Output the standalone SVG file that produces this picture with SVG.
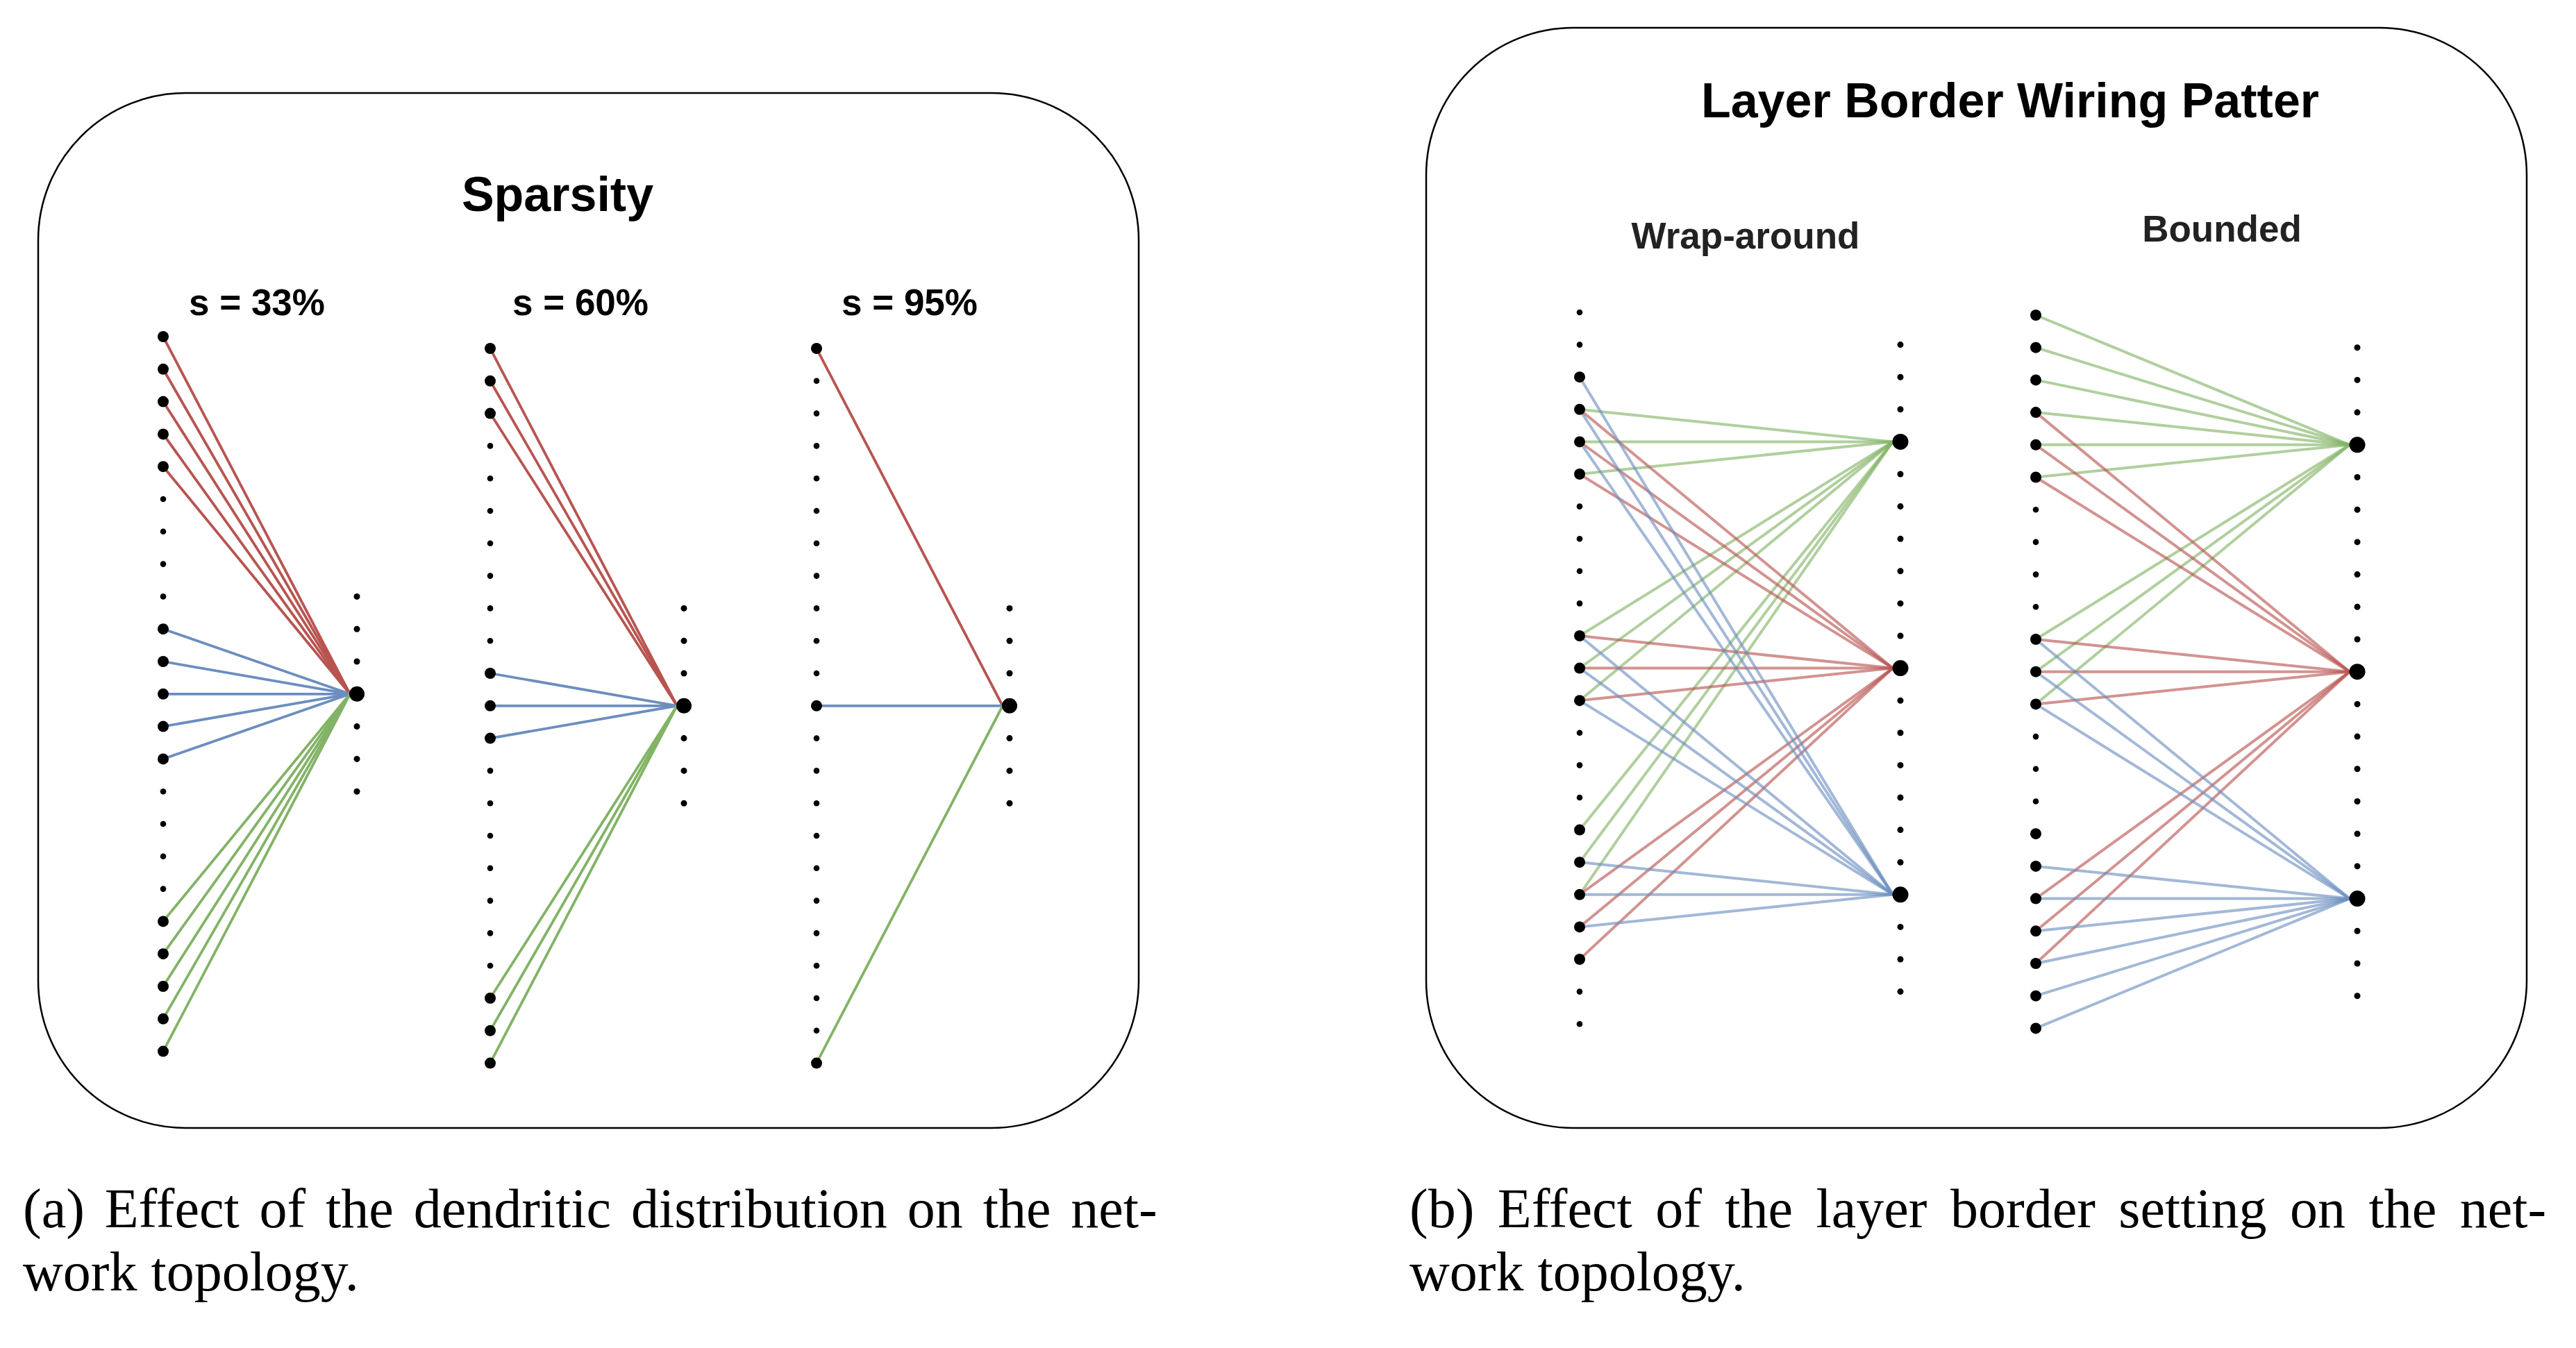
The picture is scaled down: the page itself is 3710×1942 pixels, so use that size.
<svg xmlns="http://www.w3.org/2000/svg" width="3710" height="1942" viewBox="0 0 3710 1942">
<style>
.panel{fill:#fff;stroke:#000;stroke-width:2.5}
.ttl{font-family:"Liberation Sans",Arial,sans-serif;font-weight:bold;fill:#000;text-anchor:middle}
.sub{font-family:"Liberation Sans",Arial,sans-serif;font-weight:bold;fill:#222;text-anchor:middle;font-size:53px}
.cap{font-family:"Liberation Serif","Times New Roman",serif;font-size:80px;fill:#000}
.ln{fill:none;stroke-width:3.8}
.tr .ln{stroke-width:4;stroke-opacity:0.63}
.r{stroke:#b85450}.b{stroke:#6c8ebf}.g{stroke:#82b366}
circle{fill:#000}
</style>
<rect id="panel-a" class="panel" x="55" y="134" width="1585" height="1491" rx="212" ry="212"/>
<rect id="panel-b" class="panel" x="2054" y="40" width="1585" height="1585" rx="212" ry="212"/>
<text id="title-a" class="ttl" x="803" y="304" font-size="70">Sparsity</text>
<text id="lbl-33" class="ttl" x="370" y="454" font-size="53">s = 33%</text>
<text id="lbl-60" class="ttl" x="836" y="454" font-size="53">s = 60%</text>
<text id="lbl-95" class="ttl" x="1310" y="454" font-size="53">s = 95%</text>
<text id="title-b" class="ttl" x="2895" y="169" font-size="70">Layer Border Wiring Patter</text>
<text id="lbl-wrap" class="sub" x="2514" y="358">Wrap-around</text>
<text id="lbl-bounded" class="sub" x="3200" y="348">Bounded</text>
<g id="connectors">
<g id="conn-a1">
<line class="ln r" x1="235" y1="485" x2="504" y2="999.8"/>
<line class="ln r" x1="235" y1="531.8" x2="504" y2="999.8"/>
<line class="ln r" x1="235" y1="578.6" x2="504" y2="999.8"/>
<line class="ln r" x1="235" y1="625.4" x2="504" y2="999.8"/>
<line class="ln r" x1="235" y1="672.2" x2="504" y2="999.8"/>
<line class="ln b" x1="235" y1="906.2" x2="504" y2="999.8"/>
<line class="ln b" x1="235" y1="953" x2="504" y2="999.8"/>
<line class="ln b" x1="235" y1="999.8" x2="504" y2="999.8"/>
<line class="ln b" x1="235" y1="1046.6" x2="504" y2="999.8"/>
<line class="ln b" x1="235" y1="1093.4" x2="504" y2="999.8"/>
<line class="ln g" x1="235" y1="1327.4" x2="504" y2="999.8"/>
<line class="ln g" x1="235" y1="1374.2" x2="504" y2="999.8"/>
<line class="ln g" x1="235" y1="1421" x2="504" y2="999.8"/>
<line class="ln g" x1="235" y1="1467.8" x2="504" y2="999.8"/>
<line class="ln g" x1="235" y1="1514.6" x2="504" y2="999.8"/>
</g>
<g id="conn-a2">
<line class="ln r" x1="706" y1="502" x2="975" y2="1016.8"/>
<line class="ln r" x1="706" y1="548.8" x2="975" y2="1016.8"/>
<line class="ln r" x1="706" y1="595.6" x2="975" y2="1016.8"/>
<line class="ln b" x1="706" y1="970" x2="975" y2="1016.8"/>
<line class="ln b" x1="706" y1="1016.8" x2="975" y2="1016.8"/>
<line class="ln b" x1="706" y1="1063.6" x2="975" y2="1016.8"/>
<line class="ln g" x1="706" y1="1438" x2="975" y2="1016.8"/>
<line class="ln g" x1="706" y1="1484.8" x2="975" y2="1016.8"/>
<line class="ln g" x1="706" y1="1531.6" x2="975" y2="1016.8"/>
</g>
<g id="conn-a3">
<line class="ln r" x1="1176" y1="502" x2="1444" y2="1016.8"/>
<line class="ln b" x1="1176" y1="1016.8" x2="1444" y2="1016.8"/>
<line class="ln g" x1="1176" y1="1531.6" x2="1444" y2="1016.8"/>
</g>
<g id="conn-b1" class="tr">
<line class="ln g" x1="2275" y1="589.8" x2="2726" y2="636.4"/>
<line class="ln g" x1="2275" y1="636.4" x2="2726" y2="636.4"/>
<line class="ln g" x1="2275" y1="683" x2="2726" y2="636.4"/>
<line class="ln g" x1="2275" y1="916" x2="2726" y2="636.4"/>
<line class="ln g" x1="2275" y1="962.6" x2="2726" y2="636.4"/>
<line class="ln g" x1="2275" y1="1009.2" x2="2726" y2="636.4"/>
<line class="ln g" x1="2275" y1="1195.6" x2="2726" y2="636.4"/>
<line class="ln g" x1="2275" y1="1242.2" x2="2726" y2="636.4"/>
<line class="ln g" x1="2275" y1="1288.8" x2="2726" y2="636.4"/>
<line class="ln r" x1="2275" y1="589.8" x2="2726" y2="962.6"/>
<line class="ln r" x1="2275" y1="636.4" x2="2726" y2="962.6"/>
<line class="ln r" x1="2275" y1="683" x2="2726" y2="962.6"/>
<line class="ln r" x1="2275" y1="916" x2="2726" y2="962.6"/>
<line class="ln r" x1="2275" y1="962.6" x2="2726" y2="962.6"/>
<line class="ln r" x1="2275" y1="1009.2" x2="2726" y2="962.6"/>
<line class="ln r" x1="2275" y1="1288.8" x2="2726" y2="962.6"/>
<line class="ln r" x1="2275" y1="1335.4" x2="2726" y2="962.6"/>
<line class="ln r" x1="2275" y1="1382" x2="2726" y2="962.6"/>
<line class="ln b" x1="2275" y1="543.2" x2="2726" y2="1288.8"/>
<line class="ln b" x1="2275" y1="589.8" x2="2726" y2="1288.8"/>
<line class="ln b" x1="2275" y1="636.4" x2="2726" y2="1288.8"/>
<line class="ln b" x1="2275" y1="916" x2="2726" y2="1288.8"/>
<line class="ln b" x1="2275" y1="962.6" x2="2726" y2="1288.8"/>
<line class="ln b" x1="2275" y1="1009.2" x2="2726" y2="1288.8"/>
<line class="ln b" x1="2275" y1="1242.2" x2="2726" y2="1288.8"/>
<line class="ln b" x1="2275" y1="1288.8" x2="2726" y2="1288.8"/>
<line class="ln b" x1="2275" y1="1335.4" x2="2726" y2="1288.8"/>
</g>
<g id="conn-b2" class="tr">
<line class="ln g" x1="2932" y1="454" x2="3384" y2="640.8"/>
<line class="ln g" x1="2932" y1="500.7" x2="3384" y2="640.8"/>
<line class="ln g" x1="2932" y1="547.4" x2="3384" y2="640.8"/>
<line class="ln g" x1="2932" y1="594.1" x2="3384" y2="640.8"/>
<line class="ln g" x1="2932" y1="640.8" x2="3384" y2="640.8"/>
<line class="ln g" x1="2932" y1="687.5" x2="3384" y2="640.8"/>
<line class="ln g" x1="2932" y1="921" x2="3384" y2="640.8"/>
<line class="ln g" x1="2932" y1="967.7" x2="3384" y2="640.8"/>
<line class="ln g" x1="2932" y1="1014.4" x2="3384" y2="640.8"/>
<line class="ln r" x1="2932" y1="594.1" x2="3384" y2="967.7"/>
<line class="ln r" x1="2932" y1="640.8" x2="3384" y2="967.7"/>
<line class="ln r" x1="2932" y1="687.5" x2="3384" y2="967.7"/>
<line class="ln r" x1="2932" y1="921" x2="3384" y2="967.7"/>
<line class="ln r" x1="2932" y1="967.7" x2="3384" y2="967.7"/>
<line class="ln r" x1="2932" y1="1014.4" x2="3384" y2="967.7"/>
<line class="ln r" x1="2932" y1="1294.6" x2="3384" y2="967.7"/>
<line class="ln r" x1="2932" y1="1341.3" x2="3384" y2="967.7"/>
<line class="ln r" x1="2932" y1="1388" x2="3384" y2="967.7"/>
<line class="ln b" x1="2932" y1="921" x2="3384" y2="1294.6"/>
<line class="ln b" x1="2932" y1="967.7" x2="3384" y2="1294.6"/>
<line class="ln b" x1="2932" y1="1014.4" x2="3384" y2="1294.6"/>
<line class="ln b" x1="2932" y1="1247.9" x2="3384" y2="1294.6"/>
<line class="ln b" x1="2932" y1="1294.6" x2="3384" y2="1294.6"/>
<line class="ln b" x1="2932" y1="1341.3" x2="3384" y2="1294.6"/>
<line class="ln b" x1="2932" y1="1388" x2="3384" y2="1294.6"/>
<line class="ln b" x1="2932" y1="1434.7" x2="3384" y2="1294.6"/>
<line class="ln b" x1="2932" y1="1481.4" x2="3384" y2="1294.6"/>
</g>
</g>
<g id="nodes-a1">
<g id="a1-in0"><circle cx="235" cy="485" r="8"/></g>
<g id="a1-in1"><circle cx="235" cy="531.8" r="8"/></g>
<g id="a1-in2"><circle cx="235" cy="578.6" r="8"/></g>
<g id="a1-in3"><circle cx="235" cy="625.4" r="8"/></g>
<g id="a1-in4"><circle cx="235" cy="672.2" r="8"/></g>
<g id="a1-in5"><circle cx="235" cy="719" r="4.3"/></g>
<g id="a1-in6"><circle cx="235" cy="765.8" r="4.3"/></g>
<g id="a1-in7"><circle cx="235" cy="812.6" r="4.3"/></g>
<g id="a1-in8"><circle cx="235" cy="859.4" r="4.3"/></g>
<g id="a1-in9"><circle cx="235" cy="906.2" r="8"/></g>
<g id="a1-in10"><circle cx="235" cy="953" r="8"/></g>
<g id="a1-in11"><circle cx="235" cy="999.8" r="8"/></g>
<g id="a1-in12"><circle cx="235" cy="1046.6" r="8"/></g>
<g id="a1-in13"><circle cx="235" cy="1093.4" r="8"/></g>
<g id="a1-in14"><circle cx="235" cy="1140.2" r="4.3"/></g>
<g id="a1-in15"><circle cx="235" cy="1187" r="4.3"/></g>
<g id="a1-in16"><circle cx="235" cy="1233.8" r="4.3"/></g>
<g id="a1-in17"><circle cx="235" cy="1280.6" r="4.3"/></g>
<g id="a1-in18"><circle cx="235" cy="1327.4" r="8"/></g>
<g id="a1-in19"><circle cx="235" cy="1374.2" r="8"/></g>
<g id="a1-in20"><circle cx="235" cy="1421" r="8"/></g>
<g id="a1-in21"><circle cx="235" cy="1467.8" r="8"/></g>
<g id="a1-in22"><circle cx="235" cy="1514.6" r="8"/></g>
<g id="a1-out0"><circle cx="514" cy="859.4" r="4.5"/></g>
<g id="a1-out1"><circle cx="514" cy="906.2" r="4.5"/></g>
<g id="a1-out2"><circle cx="514" cy="953" r="4.5"/></g>
<g id="a1-out3"><circle cx="514" cy="999.8" r="11"/></g>
<g id="a1-out4"><circle cx="514" cy="1046.6" r="4.5"/></g>
<g id="a1-out5"><circle cx="514" cy="1093.4" r="4.5"/></g>
<g id="a1-out6"><circle cx="514" cy="1140.2" r="4.5"/></g>
</g>
<g id="nodes-a2">
<g id="a2-in0"><circle cx="706" cy="502" r="8"/></g>
<g id="a2-in1"><circle cx="706" cy="548.8" r="8"/></g>
<g id="a2-in2"><circle cx="706" cy="595.6" r="8"/></g>
<g id="a2-in3"><circle cx="706" cy="642.4" r="4.3"/></g>
<g id="a2-in4"><circle cx="706" cy="689.2" r="4.3"/></g>
<g id="a2-in5"><circle cx="706" cy="736" r="4.3"/></g>
<g id="a2-in6"><circle cx="706" cy="782.8" r="4.3"/></g>
<g id="a2-in7"><circle cx="706" cy="829.6" r="4.3"/></g>
<g id="a2-in8"><circle cx="706" cy="876.4" r="4.3"/></g>
<g id="a2-in9"><circle cx="706" cy="923.2" r="4.3"/></g>
<g id="a2-in10"><circle cx="706" cy="970" r="8"/></g>
<g id="a2-in11"><circle cx="706" cy="1016.8" r="8"/></g>
<g id="a2-in12"><circle cx="706" cy="1063.6" r="8"/></g>
<g id="a2-in13"><circle cx="706" cy="1110.4" r="4.3"/></g>
<g id="a2-in14"><circle cx="706" cy="1157.2" r="4.3"/></g>
<g id="a2-in15"><circle cx="706" cy="1204" r="4.3"/></g>
<g id="a2-in16"><circle cx="706" cy="1250.8" r="4.3"/></g>
<g id="a2-in17"><circle cx="706" cy="1297.6" r="4.3"/></g>
<g id="a2-in18"><circle cx="706" cy="1344.4" r="4.3"/></g>
<g id="a2-in19"><circle cx="706" cy="1391.2" r="4.3"/></g>
<g id="a2-in20"><circle cx="706" cy="1438" r="8"/></g>
<g id="a2-in21"><circle cx="706" cy="1484.8" r="8"/></g>
<g id="a2-in22"><circle cx="706" cy="1531.6" r="8"/></g>
<g id="a2-out0"><circle cx="985" cy="876.4" r="4.5"/></g>
<g id="a2-out1"><circle cx="985" cy="923.2" r="4.5"/></g>
<g id="a2-out2"><circle cx="985" cy="970" r="4.5"/></g>
<g id="a2-out3"><circle cx="985" cy="1016.8" r="11"/></g>
<g id="a2-out4"><circle cx="985" cy="1063.6" r="4.5"/></g>
<g id="a2-out5"><circle cx="985" cy="1110.4" r="4.5"/></g>
<g id="a2-out6"><circle cx="985" cy="1157.2" r="4.5"/></g>
</g>
<g id="nodes-a3">
<g id="a3-in0"><circle cx="1176" cy="502" r="8"/></g>
<g id="a3-in1"><circle cx="1176" cy="548.8" r="4.3"/></g>
<g id="a3-in2"><circle cx="1176" cy="595.6" r="4.3"/></g>
<g id="a3-in3"><circle cx="1176" cy="642.4" r="4.3"/></g>
<g id="a3-in4"><circle cx="1176" cy="689.2" r="4.3"/></g>
<g id="a3-in5"><circle cx="1176" cy="736" r="4.3"/></g>
<g id="a3-in6"><circle cx="1176" cy="782.8" r="4.3"/></g>
<g id="a3-in7"><circle cx="1176" cy="829.6" r="4.3"/></g>
<g id="a3-in8"><circle cx="1176" cy="876.4" r="4.3"/></g>
<g id="a3-in9"><circle cx="1176" cy="923.2" r="4.3"/></g>
<g id="a3-in10"><circle cx="1176" cy="970" r="4.3"/></g>
<g id="a3-in11"><circle cx="1176" cy="1016.8" r="8"/></g>
<g id="a3-in12"><circle cx="1176" cy="1063.6" r="4.3"/></g>
<g id="a3-in13"><circle cx="1176" cy="1110.4" r="4.3"/></g>
<g id="a3-in14"><circle cx="1176" cy="1157.2" r="4.3"/></g>
<g id="a3-in15"><circle cx="1176" cy="1204" r="4.3"/></g>
<g id="a3-in16"><circle cx="1176" cy="1250.8" r="4.3"/></g>
<g id="a3-in17"><circle cx="1176" cy="1297.6" r="4.3"/></g>
<g id="a3-in18"><circle cx="1176" cy="1344.4" r="4.3"/></g>
<g id="a3-in19"><circle cx="1176" cy="1391.2" r="4.3"/></g>
<g id="a3-in20"><circle cx="1176" cy="1438" r="4.3"/></g>
<g id="a3-in21"><circle cx="1176" cy="1484.8" r="4.3"/></g>
<g id="a3-in22"><circle cx="1176" cy="1531.6" r="8"/></g>
<g id="a3-out0"><circle cx="1454" cy="876.4" r="4.5"/></g>
<g id="a3-out1"><circle cx="1454" cy="923.2" r="4.5"/></g>
<g id="a3-out2"><circle cx="1454" cy="970" r="4.5"/></g>
<g id="a3-out3"><circle cx="1454" cy="1016.8" r="11"/></g>
<g id="a3-out4"><circle cx="1454" cy="1063.6" r="4.5"/></g>
<g id="a3-out5"><circle cx="1454" cy="1110.4" r="4.5"/></g>
<g id="a3-out6"><circle cx="1454" cy="1157.2" r="4.5"/></g>
</g>
<g id="nodes-b1">
<g id="b1-in0"><circle cx="2275" cy="450" r="4.3"/></g>
<g id="b1-in1"><circle cx="2275" cy="496.6" r="4.3"/></g>
<g id="b1-in2"><circle cx="2275" cy="543.2" r="8"/></g>
<g id="b1-in3"><circle cx="2275" cy="589.8" r="8"/></g>
<g id="b1-in4"><circle cx="2275" cy="636.4" r="8"/></g>
<g id="b1-in5"><circle cx="2275" cy="683" r="8"/></g>
<g id="b1-in6"><circle cx="2275" cy="729.6" r="4.3"/></g>
<g id="b1-in7"><circle cx="2275" cy="776.2" r="4.3"/></g>
<g id="b1-in8"><circle cx="2275" cy="822.8" r="4.3"/></g>
<g id="b1-in9"><circle cx="2275" cy="869.4" r="4.3"/></g>
<g id="b1-in10"><circle cx="2275" cy="916" r="8"/></g>
<g id="b1-in11"><circle cx="2275" cy="962.6" r="8"/></g>
<g id="b1-in12"><circle cx="2275" cy="1009.2" r="8"/></g>
<g id="b1-in13"><circle cx="2275" cy="1055.8" r="4.3"/></g>
<g id="b1-in14"><circle cx="2275" cy="1102.4" r="4.3"/></g>
<g id="b1-in15"><circle cx="2275" cy="1149" r="4.3"/></g>
<g id="b1-in16"><circle cx="2275" cy="1195.6" r="8"/></g>
<g id="b1-in17"><circle cx="2275" cy="1242.2" r="8"/></g>
<g id="b1-in18"><circle cx="2275" cy="1288.8" r="8"/></g>
<g id="b1-in19"><circle cx="2275" cy="1335.4" r="8"/></g>
<g id="b1-in20"><circle cx="2275" cy="1382" r="8"/></g>
<g id="b1-in21"><circle cx="2275" cy="1428.6" r="4.3"/></g>
<g id="b1-in22"><circle cx="2275" cy="1475.2" r="4.3"/></g>
<g id="b1-out1"><circle cx="2737" cy="496.6" r="4.5"/></g>
<g id="b1-out2"><circle cx="2737" cy="543.2" r="4.5"/></g>
<g id="b1-out3"><circle cx="2737" cy="589.8" r="4.5"/></g>
<g id="b1-out4"><circle cx="2737" cy="636.4" r="11.5"/></g>
<g id="b1-out5"><circle cx="2737" cy="683" r="4.5"/></g>
<g id="b1-out6"><circle cx="2737" cy="729.6" r="4.5"/></g>
<g id="b1-out7"><circle cx="2737" cy="776.2" r="4.5"/></g>
<g id="b1-out8"><circle cx="2737" cy="822.8" r="4.5"/></g>
<g id="b1-out9"><circle cx="2737" cy="869.4" r="4.5"/></g>
<g id="b1-out10"><circle cx="2737" cy="916" r="4.5"/></g>
<g id="b1-out11"><circle cx="2737" cy="962.6" r="11.5"/></g>
<g id="b1-out12"><circle cx="2737" cy="1009.2" r="4.5"/></g>
<g id="b1-out13"><circle cx="2737" cy="1055.8" r="4.5"/></g>
<g id="b1-out14"><circle cx="2737" cy="1102.4" r="4.5"/></g>
<g id="b1-out15"><circle cx="2737" cy="1149" r="4.5"/></g>
<g id="b1-out16"><circle cx="2737" cy="1195.6" r="4.5"/></g>
<g id="b1-out17"><circle cx="2737" cy="1242.2" r="4.5"/></g>
<g id="b1-out18"><circle cx="2737" cy="1288.8" r="11.5"/></g>
<g id="b1-out19"><circle cx="2737" cy="1335.4" r="4.5"/></g>
<g id="b1-out20"><circle cx="2737" cy="1382" r="4.5"/></g>
<g id="b1-out21"><circle cx="2737" cy="1428.6" r="4.5"/></g>
</g>
<g id="nodes-b2">
<g id="b2-in0"><circle cx="2932" cy="454" r="8"/></g>
<g id="b2-in1"><circle cx="2932" cy="500.7" r="8"/></g>
<g id="b2-in2"><circle cx="2932" cy="547.4" r="8"/></g>
<g id="b2-in3"><circle cx="2932" cy="594.1" r="8"/></g>
<g id="b2-in4"><circle cx="2932" cy="640.8" r="8"/></g>
<g id="b2-in5"><circle cx="2932" cy="687.5" r="8"/></g>
<g id="b2-in6"><circle cx="2932" cy="734.2" r="4.3"/></g>
<g id="b2-in7"><circle cx="2932" cy="780.9" r="4.3"/></g>
<g id="b2-in8"><circle cx="2932" cy="827.6" r="4.3"/></g>
<g id="b2-in9"><circle cx="2932" cy="874.3" r="4.3"/></g>
<g id="b2-in10"><circle cx="2932" cy="921" r="8"/></g>
<g id="b2-in11"><circle cx="2932" cy="967.7" r="8"/></g>
<g id="b2-in12"><circle cx="2932" cy="1014.4" r="8"/></g>
<g id="b2-in13"><circle cx="2932" cy="1061.1" r="4.3"/></g>
<g id="b2-in14"><circle cx="2932" cy="1107.8" r="4.3"/></g>
<g id="b2-in15"><circle cx="2932" cy="1154.5" r="4.3"/></g>
<g id="b2-in16"><circle cx="2932" cy="1201.2" r="8"/></g>
<g id="b2-in17"><circle cx="2932" cy="1247.9" r="8"/></g>
<g id="b2-in18"><circle cx="2932" cy="1294.6" r="8"/></g>
<g id="b2-in19"><circle cx="2932" cy="1341.3" r="8"/></g>
<g id="b2-in20"><circle cx="2932" cy="1388" r="8"/></g>
<g id="b2-in21"><circle cx="2932" cy="1434.7" r="8"/></g>
<g id="b2-in22"><circle cx="2932" cy="1481.4" r="8"/></g>
<g id="b2-out1"><circle cx="3395" cy="500.7" r="4.5"/></g>
<g id="b2-out2"><circle cx="3395" cy="547.4" r="4.5"/></g>
<g id="b2-out3"><circle cx="3395" cy="594.1" r="4.5"/></g>
<g id="b2-out4"><circle cx="3395" cy="640.8" r="11.5"/></g>
<g id="b2-out5"><circle cx="3395" cy="687.5" r="4.5"/></g>
<g id="b2-out6"><circle cx="3395" cy="734.2" r="4.5"/></g>
<g id="b2-out7"><circle cx="3395" cy="780.9" r="4.5"/></g>
<g id="b2-out8"><circle cx="3395" cy="827.6" r="4.5"/></g>
<g id="b2-out9"><circle cx="3395" cy="874.3" r="4.5"/></g>
<g id="b2-out10"><circle cx="3395" cy="921" r="4.5"/></g>
<g id="b2-out11"><circle cx="3395" cy="967.7" r="11.5"/></g>
<g id="b2-out12"><circle cx="3395" cy="1014.4" r="4.5"/></g>
<g id="b2-out13"><circle cx="3395" cy="1061.1" r="4.5"/></g>
<g id="b2-out14"><circle cx="3395" cy="1107.8" r="4.5"/></g>
<g id="b2-out15"><circle cx="3395" cy="1154.5" r="4.5"/></g>
<g id="b2-out16"><circle cx="3395" cy="1201.2" r="4.5"/></g>
<g id="b2-out17"><circle cx="3395" cy="1247.9" r="4.5"/></g>
<g id="b2-out18"><circle cx="3395" cy="1294.6" r="11.5"/></g>
<g id="b2-out19"><circle cx="3395" cy="1341.3" r="4.5"/></g>
<g id="b2-out20"><circle cx="3395" cy="1388" r="4.5"/></g>
<g id="b2-out21"><circle cx="3395" cy="1434.7" r="4.5"/></g>
</g>
<g id="caption-a">
<text class="cap" x="33" y="1768" word-spacing="8.9">(a) Effect of the dendritic distribution on the net-</text>
<text class="cap" x="33" y="1859">work topology.</text>
</g>
<g id="caption-b">
<text class="cap" x="2030" y="1768" word-spacing="13.5">(b) Effect of the layer border setting on the net-</text>
<text class="cap" x="2030" y="1859">work topology.</text>
</g>
</svg>
